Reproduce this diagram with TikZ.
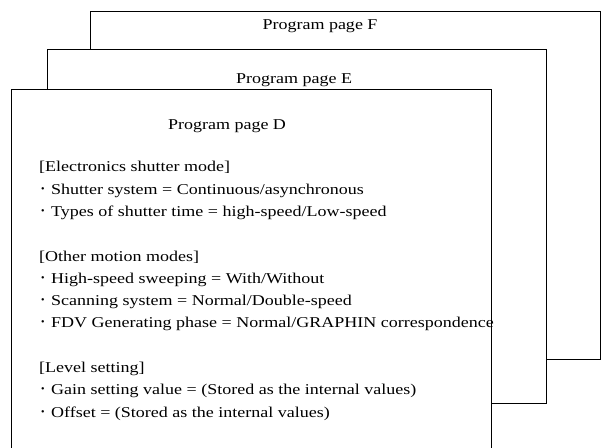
\documentclass[tikz,border=0pt]{standalone}
\usepackage{fontspec}
\setmainfont{Liberation Serif}[FakeStretch=1.2]
\newfontfamily\cjk{Noto Sans CJK JP}
\newcommand{\itemdot}{{\cjk ･}\ }

\tikzset{
  page/.style={draw, line width=1pt, fill=white},
  title/.style={anchor=base, inner sep=0pt, font=\fontsize{15}{17}\selectfont},
  entry/.style={anchor=base west, inner sep=0pt, font=\fontsize{15}{17}\selectfont}
}

\begin{document}
\begin{tikzpicture}[x=1pt, y=-1pt]
  \clip (0,0) rectangle (604,447);

  % the three pages, back to front
  \draw[page] (90,11) rectangle (600,359);
  \node[title] (titleF) at (320,29.8) {Program page F};

  \draw[page] (47,49) rectangle (546,403);
  \node[title] (titleE) at (294,83.8) {Program page E};

  \draw[page] (11,89) rectangle (491,470);
  \node[title] (titleD) at (227,129.8) {Program page D};

  % contents of page D
  \node[entry] (shutter)  at (39,171.8) {[Electronics shutter mode]};
  \node[entry] (shutsys)  at (39,194.1) {\itemdot Shutter system = Continuous/asynchronous};
  \node[entry] (shuttime) at (39,216.4) {\itemdot Types of shutter time = high-speed/Low-speed};

  \node[entry] (motion)   at (39,261.0) {[Other motion modes]};
  \node[entry] (sweep)    at (39,283.3) {\itemdot High-speed sweeping = With/Without};
  \node[entry] (scan)     at (39,305.6) {\itemdot Scanning system = Normal/Double-speed};
  \node[entry] (fdv)      at (39,327.9) {\itemdot FDV Generating phase = Normal/GRAPHIN correspondence};

  \node[entry] (level)    at (39,372.5) {[Level setting]};
  \node[entry] (gain)     at (39,394.8) {\itemdot Gain setting value = (Stored as the internal values)};
  \node[entry] (offset)   at (39,417.1) {\itemdot Offset = (Stored as the internal values)};
\end{tikzpicture}
\end{document}
